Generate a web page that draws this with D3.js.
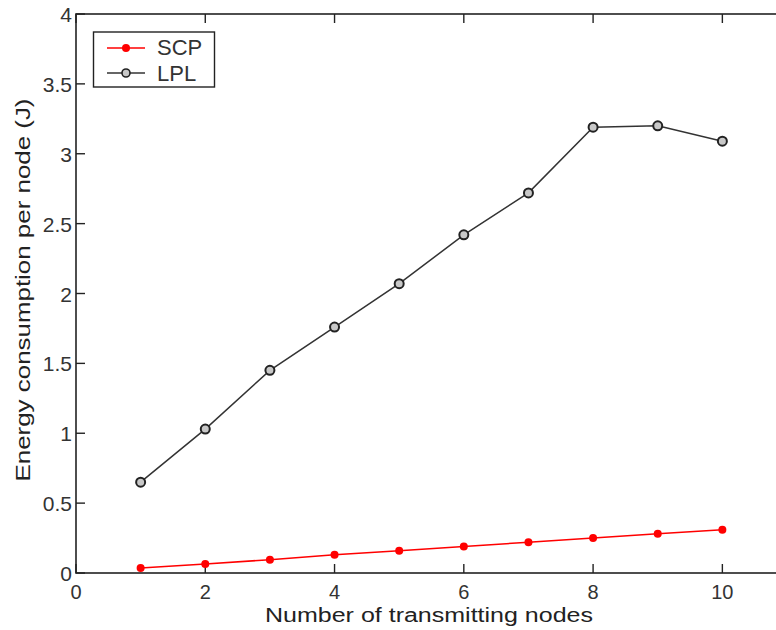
<!DOCTYPE html>
<html>
<head>
<meta charset="utf-8">
<script src="https://cdn.jsdelivr.net/npm/d3@7"></script>
<style>
  body { margin: 0; background: #fff; }
  svg { font-family: "Liberation Sans", Arial, sans-serif; }
</style>
</head>
<body>
<svg width="776" height="630"></svg>
<script>
// data
var nodes = [1, 2, 3, 4, 5, 6, 7, 8, 9, 10];
var scp = [0.035, 0.065, 0.095, 0.13, 0.16, 0.19, 0.22, 0.25, 0.28, 0.31];
var lpl = [0.65, 1.03, 1.45, 1.76, 2.07, 2.42, 2.72, 3.19, 3.20, 3.09];
var xTicks = [0, 2, 4, 6, 8, 10];
var yTicks = [0, 0.5, 1, 1.5, 2, 2.5, 3, 3.5, 4];

var svg = d3.select("svg");

// x axis runs to 11, right edge falls just outside the picture
var x = d3.scaleLinear().domain([0, 11]).range([76, 787]);
var y = d3.scaleLinear().domain([0, 4]).range([573, 14]);

var g = svg.append("g");

// frame
g.append("rect")
  .attr("x", x(0)).attr("y", y(4))
  .attr("width", x(11) - x(0)).attr("height", y(0) - y(4))
  .attr("fill", "none").attr("stroke", "#222").attr("stroke-width", 1.6);

// ticks, pointing inward on all four sides
var tl = 9;
xTicks.forEach(function(t) {
  g.append("line").attr("x1", x(t)).attr("x2", x(t)).attr("y1", y(0)).attr("y2", y(0) - tl)
    .attr("stroke", "#222").attr("stroke-width", 1.4);
  g.append("line").attr("x1", x(t)).attr("x2", x(t)).attr("y1", y(4)).attr("y2", y(4) + tl)
    .attr("stroke", "#222").attr("stroke-width", 1.4);
  g.append("text").attr("x", x(t)).attr("y", y(0) + 26)
    .attr("text-anchor", "middle").attr("font-size", 20).attr("fill", "#333").text(t);
});
yTicks.forEach(function(t) {
  g.append("line").attr("x1", x(0)).attr("x2", x(0) + tl).attr("y1", y(t)).attr("y2", y(t))
    .attr("stroke", "#222").attr("stroke-width", 1.4);
  g.append("line").attr("x1", x(11)).attr("x2", x(11) - tl).attr("y1", y(t)).attr("y2", y(t))
    .attr("stroke", "#222").attr("stroke-width", 1.4);
  g.append("text").attr("x", x(0) - 4).attr("y", y(t) + 8)
    .attr("text-anchor", "end").attr("font-size", 21).attr("fill", "#333").text(t);
});

// axis titles (the original is stretched sideways)
svg.append("text").attr("x", 429).attr("y", 622)
  .attr("text-anchor", "middle").attr("font-size", 20).attr("fill", "#222")
  .attr("textLength", 328).attr("lengthAdjust", "spacingAndGlyphs")
  .text("Number of transmitting nodes");
svg.append("text").attr("transform", "translate(30," + 290 + ") rotate(-90)")
  .attr("text-anchor", "middle").attr("font-size", 21).attr("fill", "#222")
  .attr("textLength", 383).attr("lengthAdjust", "spacingAndGlyphs")
  .text("Energy consumption per node (J)");

var line = d3.line()
  .x(function(d, i) { return x(nodes[i]); })
  .y(function(d) { return y(d); });

// LPL
svg.append("path").datum(lpl).attr("d", line)
  .attr("fill", "none").attr("stroke", "#333").attr("stroke-width", 1.5);
svg.selectAll(".lpl").data(lpl).enter().append("circle")
  .attr("cx", function(d, i) { return x(nodes[i]); })
  .attr("cy", function(d) { return y(d); })
  .attr("r", 4.5).attr("fill", "#c8c8c8").attr("stroke", "#222").attr("stroke-width", 2);

// SCP
svg.append("path").datum(scp).attr("d", line)
  .attr("fill", "none").attr("stroke", "#f00").attr("stroke-width", 1.5);
svg.selectAll(".scp").data(scp).enter().append("circle")
  .attr("cx", function(d, i) { return x(nodes[i]); })
  .attr("cy", function(d) { return y(d); })
  .attr("r", 4).attr("fill", "#f00");

// legend
var lg = svg.append("g");
lg.append("rect").attr("x", 93.5).attr("y", 32).attr("width", 121).attr("height", 55)
  .attr("fill", "#fff").attr("stroke", "#222").attr("stroke-width", 1.4);
lg.append("line").attr("x1", 107).attr("x2", 145).attr("y1", 48).attr("y2", 48)
  .attr("stroke", "#f00").attr("stroke-width", 1.5);
lg.append("circle").attr("cx", 126).attr("cy", 48).attr("r", 4).attr("fill", "#f00");
lg.append("text").attr("x", 157).attr("y", 55).attr("font-size", 22).attr("fill", "#333").text("SCP");
lg.append("line").attr("x1", 107).attr("x2", 145).attr("y1", 73).attr("y2", 73)
  .attr("stroke", "#333").attr("stroke-width", 1.5);
lg.append("circle").attr("cx", 126).attr("cy", 73).attr("r", 4).attr("fill", "#c8c8c8")
  .attr("stroke", "#222").attr("stroke-width", 1.6);
lg.append("text").attr("x", 157).attr("y", 81).attr("font-size", 22).attr("fill", "#333").text("LPL");
</script>
</body>
</html>
